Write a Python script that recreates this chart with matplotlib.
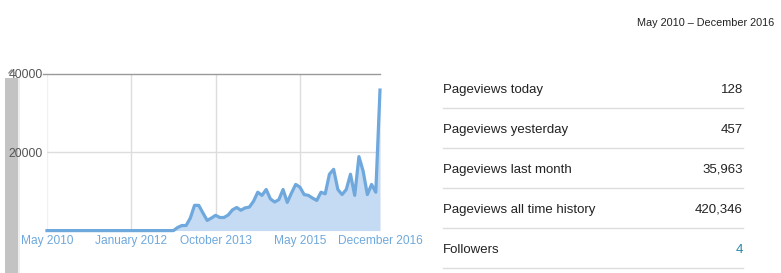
import matplotlib
matplotlib.use("Agg")
import matplotlib.pyplot as plt
from matplotlib.patches import Rectangle
from matplotlib.lines import Line2D

# ---- data ----
pageviews = [
    0, 0, 0, 0, 0, 0, 0, 0, 0, 0,
    0, 0, 0, 0, 0, 0, 0, 0, 0, 0,
    0, 0, 0, 0, 0, 0, 0, 0, 0, 0,
    0, 800, 1300, 1300, 3200, 6450, 6450, 4500, 2600, 3200,
    3900, 3350, 3350, 4000, 5300, 5900, 5200, 5800, 6000, 7500,
    9800, 9000, 10500, 8100, 7300, 7900, 10500, 7200, 9600, 11800,
    11100, 9200, 9000, 8300, 7700, 9800, 9400, 14400, 15650, 10500,
    9200, 10500, 14400, 9000, 18900, 15200, 9200, 11800, 9800, 35900,
]
tick_months = [0, 20, 40, 60, 79]
tick_labels = ["May 2010", "January 2012", "October 2013", "May 2015", "December 2016"]
y_ticks = [20000, 40000]
y_tick_labels = ["20000", "40000"]

date_range = "May 2010 \u2013 December 2016"
stat_labels = ["Pageviews today", "Pageviews yesterday", "Pageviews last month",
               "Pageviews all time history", "Followers"]
stat_values = ["128", "457", "35,963", "420,346", "4"]

# ---- figure ----
W, H = 781, 273
fig = plt.figure(figsize=(W / 100, H / 100), dpi=100)
fig.patch.set_facecolor("white")
plt.rcParams["font.family"] = ["Liberation Sans", "DejaVu Sans"]

def fx(px):
    return px / W

def fy(py):
    return 1 - py / H

# left scrollbar strip
fig.add_artist(Rectangle((fx(18), 0), fx(2), fy(77), transform=fig.transFigure,
                         facecolor="#eeeeee", edgecolor="none", zorder=0))
fig.add_artist(Rectangle((fx(5), 0), fx(13), fy(78), transform=fig.transFigure,
                         facecolor="#c3c3c3", edgecolor="none", zorder=0))
fig.add_artist(Line2D([fx(9), fx(11.5), fx(14)], [fy(73), fy(70), fy(73)],
                      transform=fig.transFigure, color="#888888", linewidth=1, zorder=1))

ax_left, ax_right = 47, 380
ax_top, ax_bot = 74, 230.6
ax = fig.add_axes([fx(ax_left), fy(ax_bot), fx(ax_right - ax_left), (ax_bot - ax_top) / H])
ax.patch.set_alpha(0)
months = list(range(len(pageviews)))
ax.fill_between(months, pageviews, 0, color="#c5dbf3", linewidth=0, zorder=2)
ax.plot(months, pageviews, color="#6fa8dc", linewidth=2.3, solid_joinstyle="round",
        zorder=3, clip_on=False)
ax.set_xlim(0, len(pageviews) - 1)
ax.set_ylim(0, 40000)

for m in tick_months[1:-1]:
    ax.axvline(m, color="#dddddd", linewidth=1, zorder=1)
ax.axvline(0, color="#f0f0f0", linewidth=1, zorder=1)
ax.axhline(20000, color="#dddddd", linewidth=1, zorder=1)
fig.add_artist(Line2D([fx(43), fx(ax_right)], [fy(ax_top), fy(ax_top)],
                      transform=fig.transFigure, color="#999999", linewidth=1, zorder=1))

for s in ax.spines.values():
    s.set_visible(False)
ax.set_xticks(tick_months)
ax.set_xticklabels(tick_labels, color="#6fa8dc", fontsize=8.6)
ax.set_yticks(y_ticks)
ax.set_yticklabels(y_tick_labels, color="#555555", fontsize=8.8)
ax.tick_params(axis="both", length=0)
ax.tick_params(axis="x", pad=3)
ax.tick_params(axis="y", pad=3)

# ---- right panel ----
fig.text(fx(774), fy(23), date_range, ha="right", va="center", fontsize=7.8, color="#222222")
row_y = [88, 128, 168, 208, 248]
for i, (lab, val) in enumerate(zip(stat_labels, stat_values)):
    by = fy(row_y[i] + 5)
    fig.text(fx(443), by, lab, ha="left", va="baseline", fontsize=9.5, color="#222222")
    col = "#2a86a8" if lab == "Followers" else "#222222"
    fig.text(fx(743), by, val, ha="right", va="baseline", fontsize=9.5, color=col)
    ly = fy(row_y[i] + 20)
    fig.add_artist(Line2D([fx(443), fx(743)], [ly, ly], transform=fig.transFigure,
                          color="#dddddd", linewidth=1))

fig.savefig("out.png", dpi=100, facecolor="white")
